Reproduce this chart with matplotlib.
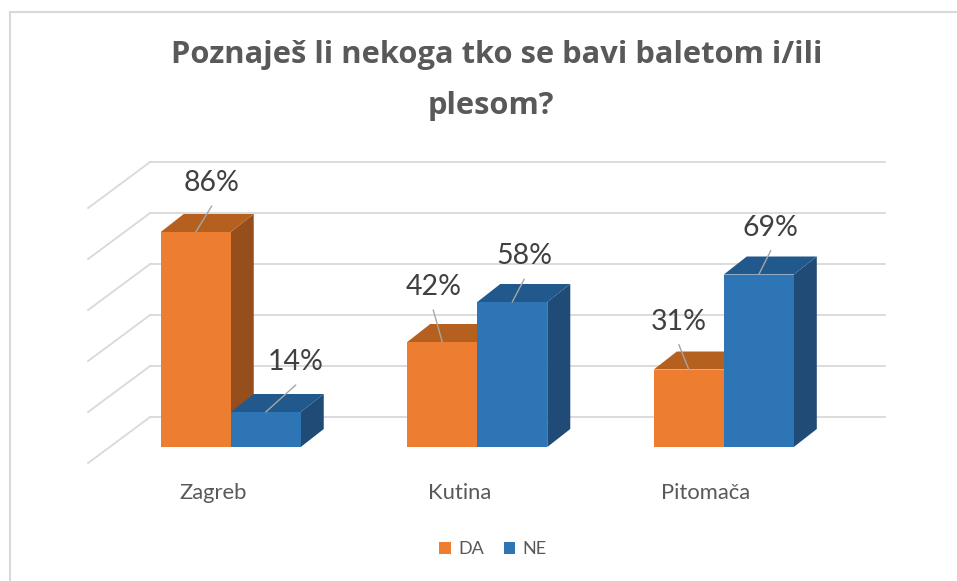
import numpy as np
import matplotlib.pyplot as plt
from matplotlib.patches import Polygon, Patch, Rectangle

plt.rcParams['font.family'] = ['Lato', 'DejaVu Sans']

# data
cities = ['Zagreb', 'Kutina', 'Pitomača']
da = [86, 42, 31]
ne = [14, 58, 69]
series = ['DA', 'NE']
grid_vals = [0, 20, 40, 60, 80, 100]

# colours for front / top / side of each series
faces = {
    'DA': ('#ED7D31', '#B5601F', '#964F1C'),
    'NE': ('#2E75B6', '#22598C', '#1F4B76'),
}
# label offsets in pixels from the top centre of each bar (hand placed, like in excel)
lab_off = {
    'DA': [(16, 49), (-9, 55), (-10, 48)],
    'NE': [(30, 50), (12, 46), (12, 47)],
}

fig = plt.figure(figsize=(9.57, 5.81), dpi=100)
ax = fig.add_axes([0, 0, 1, 1])
ax.set_xlim(-0.936, 2.946)
ax.set_ylim(-53.6, 178.8)
ax.axis('off')

w = 0.284          # bar width (category units)
ddx, ddy = 0.0933, 7.2   # depth of a bar
wall_x0, wall_x1 = -0.327, 2.654
wall_dy, wall_k = 12, 1.02
side_dx, side_dy = -0.2515, -18.4

# back wall + side wall grid
for g in grid_vals:
    yw = wall_dy + g * wall_k
    ax.plot([wall_x0, wall_x1], [yw, yw], color='#d9d9d9', lw=1.3, zorder=1)
    ax.plot([wall_x0 + side_dx, wall_x0], [yw + side_dy, yw], color='#d9d9d9', lw=1.3, zorder=1)

x = np.arange(len(cities))
z = 3
for i in range(len(cities)):
    for s, vals, sh in (('DA', da, -w / 2), ('NE', ne, w / 2)):
        v = vals[i]
        x0 = x[i] + sh - w / 2
        x1 = x0 + w
        front, top, side = faces[s]
        ax.add_patch(Polygon([(x1, 0), (x1, v), (x1 + ddx, v + ddy), (x1 + ddx, ddy)],
                             closed=True, fc=side, ec='none', zorder=z))
        ax.add_patch(Polygon([(x0, v), (x1, v), (x1 + ddx, v + ddy), (x0 + ddx, v + ddy)],
                             closed=True, fc=top, ec='none', zorder=z))
        ax.bar(x[i] + sh, v, width=w, color=front, zorder=z + 0.5)
        z += 1

        ox, oy = lab_off[s][i]
        ax.annotate(f'{v}%', xy=(x[i] + sh, v), xytext=(ox, oy), textcoords='offset pixels',
                    ha='center', va='center', fontsize=20.5, color='#404040', zorder=20)
        ax.annotate('', xy=(x[i] + sh, v), xytext=(ox, oy - 23), textcoords='offset pixels',
                    arrowprops=dict(arrowstyle='-', color='#a6a6a6', lw=1, shrinkA=0, shrinkB=0),
                    zorder=20)

# category labels
for i, c in enumerate(cities):
    ax.annotate(c, xy=(x[i], 0), xytext=(-18, -46), textcoords='offset pixels',
                ha='center', va='center', fontsize=15.8, color='#595959')

fig.text(497 / 957, 1 - 63 / 581, 'Poznaješ li nekoga tko se bavi baletom i/ili',
         ha='center', va='baseline', fontsize=22.2, fontweight='bold', color='#595959',
         family=['Open Sans', 'DejaVu Sans'])
fig.text(491 / 957, 1 - 114 / 581, 'plesom?',
         ha='center', va='baseline', fontsize=22.2, fontweight='bold', color='#595959',
         family=['Open Sans', 'DejaVu Sans'])

handles = [Patch(facecolor=faces[s][0], label=s) for s in series]
fig.legend(handles=handles, loc='center', bbox_to_anchor=(493 / 957, 1 - 549 / 581),
           ncol=2, frameon=False, fontsize=13, labelcolor='#595959',
           handlelength=0.65, handleheight=0.65, handletextpad=0.4, columnspacing=1.1)

fig.patches.append(Rectangle((9.5 / 957, -0.1), 1.1, 1.1 - 12.5 / 581, transform=fig.transFigure,
                             fill=False, ec='#d9d9d9', lw=1.5))

fig.savefig('out.png', dpi=100)
